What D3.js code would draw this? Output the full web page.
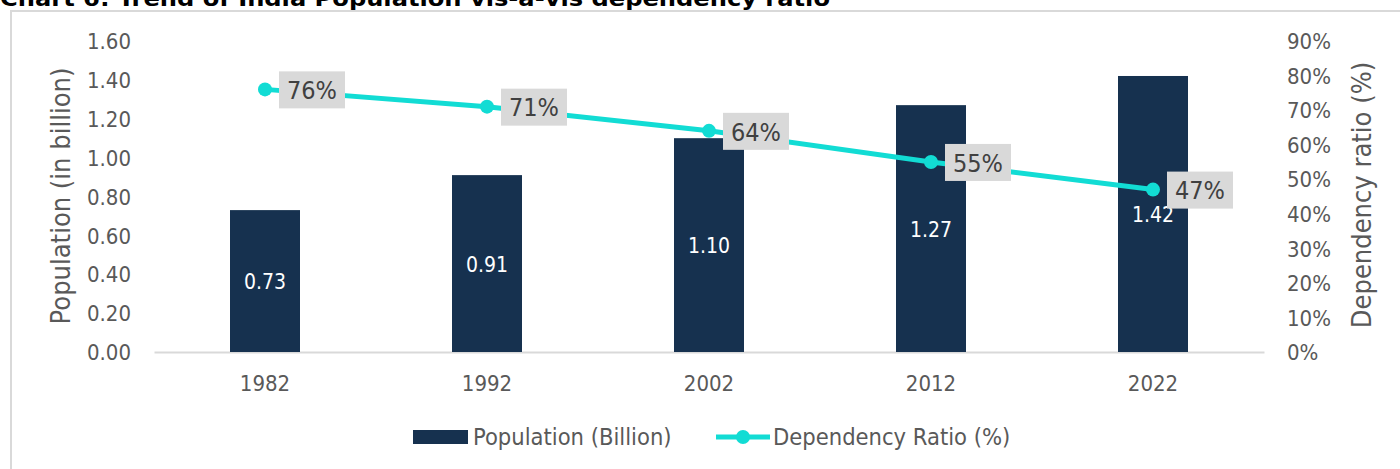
<!DOCTYPE html>
<html>
<head>
<meta charset="utf-8">
<script src="https://cdn.jsdelivr.net/npm/d3@7"></script>
<style>
  html, body { margin: 0; padding: 0; background: #fff; }
  svg { display: block; }
  text { font-family: "DejaVu Sans Condensed", "DejaVu Sans", sans-serif; font-stretch: condensed; }
</style>
</head>
<body>
<svg id="chart" width="1400" height="469"></svg>
<script>
// Census years, population (billion) and dependency ratio (%)
const years = ["1982", "1992", "2002", "2012", "2022"];
const population = [0.73, 0.91, 1.10, 1.27, 1.42];
const dependency = [76, 71, 64, 55, 47];
const popTicks = [0, 0.2, 0.4, 0.6, 0.8, 1.0, 1.2, 1.4, 1.6];
const depTicks = [0, 10, 20, 30, 40, 50, 60, 70, 80, 90];

const svg = d3.select("#chart");
const W = 1400, H = 469;
const plot = { left: 154, right: 1264, top: 41, bottom: 352 };

const barColor = "#16314f";
const lineColor = "#12dcd4";
const tickColor = "#595959";

// frame
svg.append("line").attr("x1", 11).attr("x2", 11).attr("y1", 11).attr("y2", H)
  .attr("stroke", "#d9d9d9").attr("stroke-width", 2);
svg.append("line").attr("x1", 10).attr("x2", W).attr("y1", 11).attr("y2", 11)
  .attr("stroke", "#d9d9d9").attr("stroke-width", 2);

// title (runs off the top edge)
svg.append("text").attr("x", 0).attr("y", 6)
  .attr("font-size", 21).attr("font-weight", "bold").attr("fill", "#000")
  .attr("textLength", 830).attr("lengthAdjust", "spacingAndGlyphs")
  .text("Chart 6: Trend of India Population vis-a-vis dependency ratio");

const x = d3.scaleBand().domain(years).range([plot.left, plot.right]).paddingInner(0).paddingOuter(0);
const yL = d3.scaleLinear().domain([0, 1.6]).range([plot.bottom, plot.top]);
const yR = d3.scaleLinear().domain([0, 90]).range([plot.bottom, plot.top]);
const barW = 70;

// left axis
const leftAxis = d3.axisLeft(yL).tickValues(popTicks).tickFormat(d3.format(".2f")).tickSize(0).tickPadding(0);
const gL = svg.append("g").attr("transform", `translate(131,0)`).call(leftAxis);
gL.select(".domain").remove();
gL.selectAll("text").attr("font-size", 22).attr("fill", tickColor).attr("dy", "0.35em");

// right axis
const rightAxis = d3.axisRight(yR).tickValues(depTicks).tickFormat(d => d + "%").tickSize(0).tickPadding(0);
const gR = svg.append("g").attr("transform", `translate(1287,0)`).call(rightAxis);
gR.select(".domain").remove();
gR.selectAll("text").attr("font-size", 22).attr("fill", tickColor).attr("dy", "0.35em");

// x axis
const bottomAxis = d3.axisBottom(x).tickSize(0).tickPadding(0);
const gX = svg.append("g").attr("transform", `translate(0,${plot.bottom})`).call(bottomAxis);
gX.select(".domain").attr("stroke", "#d9d9d9").attr("stroke-width", 2);
gX.selectAll("text").attr("font-size", 22).attr("fill", tickColor).attr("y", 31).attr("dy", "0.35em");

svg.selectAll("g.tick text").attr("font-family", null);

// axis titles
svg.append("text").attr("transform", `translate(70,196) rotate(-90)`)
  .attr("text-anchor", "middle").attr("font-size", 27).attr("fill", tickColor)
  .text("Population (in billion)");
svg.append("text").attr("transform", `translate(1371,195) rotate(-90)`)
  .attr("text-anchor", "middle").attr("font-size", 27).attr("fill", tickColor)
  .text("Dependency ratio (%)");

// bars
const cx = d => x(d) + x.bandwidth() / 2;
svg.append("g").selectAll("rect").data(years).join("rect")
  .attr("x", d => cx(d) - barW / 2)
  .attr("width", barW)
  .attr("y", (d, i) => yL(population[i]))
  .attr("height", (d, i) => yL(0) - yL(population[i]))
  .attr("fill", barColor);

// bar value labels
svg.append("g").selectAll("text").data(years).join("text")
  .attr("x", d => cx(d))
  .attr("y", (d, i) => (yL(population[i]) + yL(0)) / 2 + 1)
  .attr("dy", "0.35em").attr("text-anchor", "middle")
  .attr("font-size", 21).attr("fill", "#fff")
  .text((d, i) => population[i].toFixed(2));

// dependency ratio line
const line = d3.line().x((d, i) => cx(years[i])).y(d => yR(d));
svg.append("path").datum(dependency)
  .attr("d", line).attr("fill", "none")
  .attr("stroke", lineColor).attr("stroke-width", 5).attr("stroke-linejoin", "round");

svg.append("g").selectAll("circle").data(dependency).join("circle")
  .attr("cx", (d, i) => cx(years[i])).attr("cy", d => yR(d)).attr("r", 7)
  .attr("fill", lineColor);

// percentage callouts
const callouts = svg.append("g").selectAll("g").data(dependency).join("g")
  .attr("transform", (d, i) => `translate(${cx(years[i]) + 14},${yR(d)})`);
callouts.append("rect").attr("x", 0).attr("y", -18).attr("width", 66).attr("height", 37)
  .attr("fill", "#d9d9d9");
callouts.append("text").attr("x", 33).attr("y", 1).attr("dy", "0.35em")
  .attr("text-anchor", "middle").attr("font-size", 25).attr("fill", "#404040")
  .text(d => d + "%");

// legend
const lg = svg.append("g");
lg.append("rect").attr("x", 413).attr("y", 430).attr("width", 55).attr("height", 14).attr("fill", barColor);
lg.append("text").attr("x", 473).attr("y", 437).attr("dy", "0.35em")
  .attr("font-size", 23.5).attr("fill", tickColor).text("Population (Billion)");
lg.append("line").attr("x1", 716).attr("x2", 770).attr("y1", 437).attr("y2", 437)
  .attr("stroke", lineColor).attr("stroke-width", 5);
lg.append("circle").attr("cx", 743).attr("cy", 437).attr("r", 7).attr("fill", lineColor);
lg.append("text").attr("x", 773).attr("y", 437).attr("dy", "0.35em")
  .attr("font-size", 23.5).attr("fill", tickColor).text("Dependency Ratio (%)");
</script>
</body>
</html>
